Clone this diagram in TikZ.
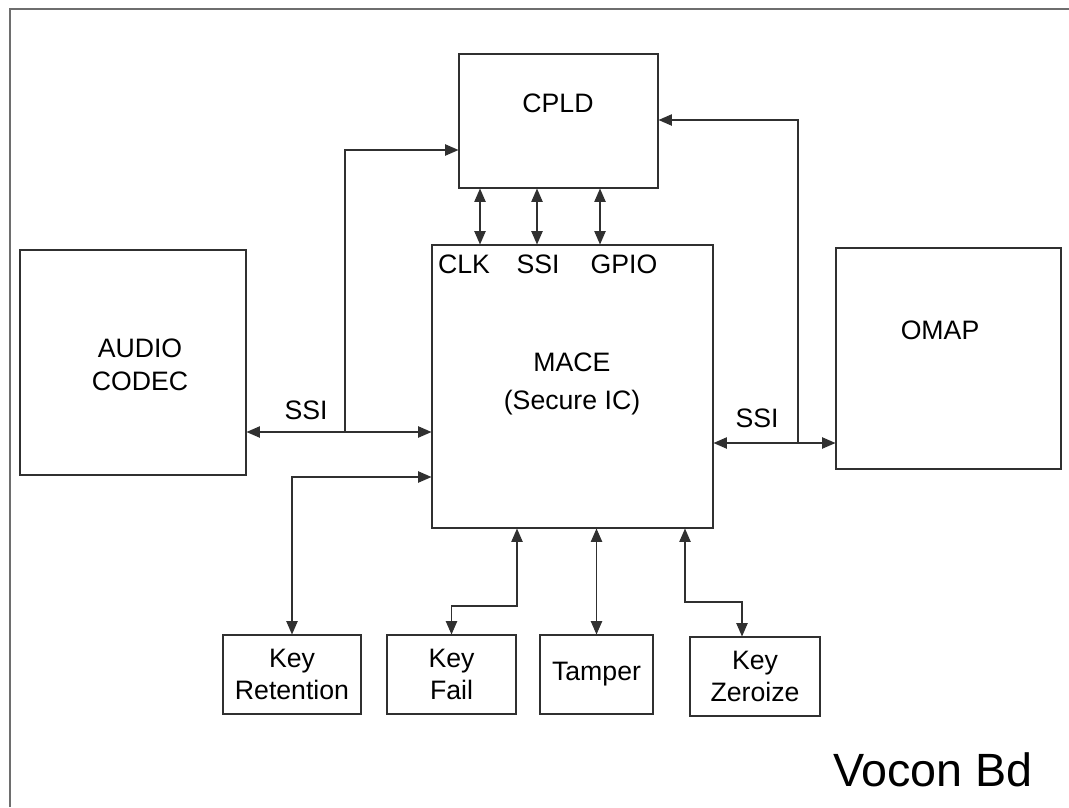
\documentclass[tikz,border=0pt]{standalone}
\usepackage{fontspec}
\setmainfont{Liberation Sans}
\usetikzlibrary{arrows.meta}
\definecolor{linegray}{HTML}{303030}
\definecolor{framegray}{HTML}{6E6E6E}

\begin{document}
\begin{tikzpicture}[
    x=0.75pt, y=-0.75pt,
    box/.style={draw=linegray, line width=0.8pt, inner sep=0pt, align=center, font=\fontsize{20}{24}\selectfont},
    txt/.style={inner sep=0pt, align=center, font=\fontsize{20}{24}\selectfont},
    arrow/.style={-{Triangle[length=10pt, width=8.5pt]}, line width=0.8pt, color=linegray},
    dbl/.style={{Triangle[length=10pt, width=8.5pt]}-{Triangle[length=10pt, width=8.5pt]}, line width=0.8pt, color=linegray},
]
\useasboundingbox (0,0) rectangle (1069,807);
\draw[framegray, line width=1.6pt] (10,807) -- (10,9) -- (1069,9);

\node[box, minimum width=149.25pt, minimum height=100.5pt] (cpld) at (558.5,121) {};
\node[txt] (cpldtxt) at (558,103) {CPLD};
\node[box, minimum width=210.75pt, minimum height=212.25pt] (mace) at (572.5,386.5) {};
\node[txt] (clk) at (464,264) {CLK};
\node[txt] (ssitop) at (538,264) {SSI};
\node[txt] (gpio) at (624,264) {GPIO};
\node[txt, font=\fontsize{20}{28}\selectfont] (macetxt) at (572,384) {MACE\\(Secure IC)};
\node[box, minimum width=169.5pt, minimum height=168.75pt] (codec) at (133,362.5) {};
\node[txt, font=\fontsize{20}{25}\selectfont] (codectxt) at (140,365) {AUDIO\\CODEC};
\node[box, minimum width=168.75pt, minimum height=165.75pt] (omap) at (948.5,358.5) {};
\node[txt] (omaptxt) at (940,330) {OMAP};

\node[box, minimum width=103.5pt, minimum height=59.25pt] (keyret) at (292,674.5) {Key\\Retention};
\node[box, minimum width=96.75pt, minimum height=59.25pt] (keyfail) at (451.5,674.5) {Key\\Fail};
\node[box, minimum width=84.75pt, minimum height=59.25pt] (tamper) at (596.5,674.5) {Tamper};
\node[box, minimum width=97.5pt, minimum height=59.25pt] (keyzero) at (755,676.5) {Key\\Zeroize};

\node[txt] (ssileft) at (306,410) {SSI};
\node[txt] (ssiright) at (757,418) {SSI};
\node[txt, font=\fontsize{35}{40}\selectfont] (board) at (933,770) {Vocon Bd};

\draw[dbl] (cpld.south -| 480,0) -- (mace.north -| 480,0);
\draw[dbl] (cpld.south -| 537,0) -- (mace.north -| 537,0);
\draw[dbl] (cpld.south -| 600,0) -- (mace.north -| 600,0);

\coordinate (jleft) at (345,432);
\coordinate (jright) at (798,443);
\draw[dbl] (codec.east |- jleft) -- (mace.west |- jleft);
\draw[arrow] (jleft) |- (cpld.west |- 0,150);
\draw[dbl] (mace.east |- jright) -- (omap.west |- jright);
\draw[arrow] (jright) |- (cpld.east |- 0,120);

\draw[dbl] (keyret.north) |- (mace.west |- 0,477);
\draw[dbl] (mace.south -| 517,0) -- (517,606) -| (keyfail.north);
\draw[dbl] (mace.south -| tamper.north) -- (tamper.north);
\draw[dbl] (mace.south -| 685,0) -- (685,602) -| (keyzero.north -| 742,0);
\end{tikzpicture}
\end{document}
